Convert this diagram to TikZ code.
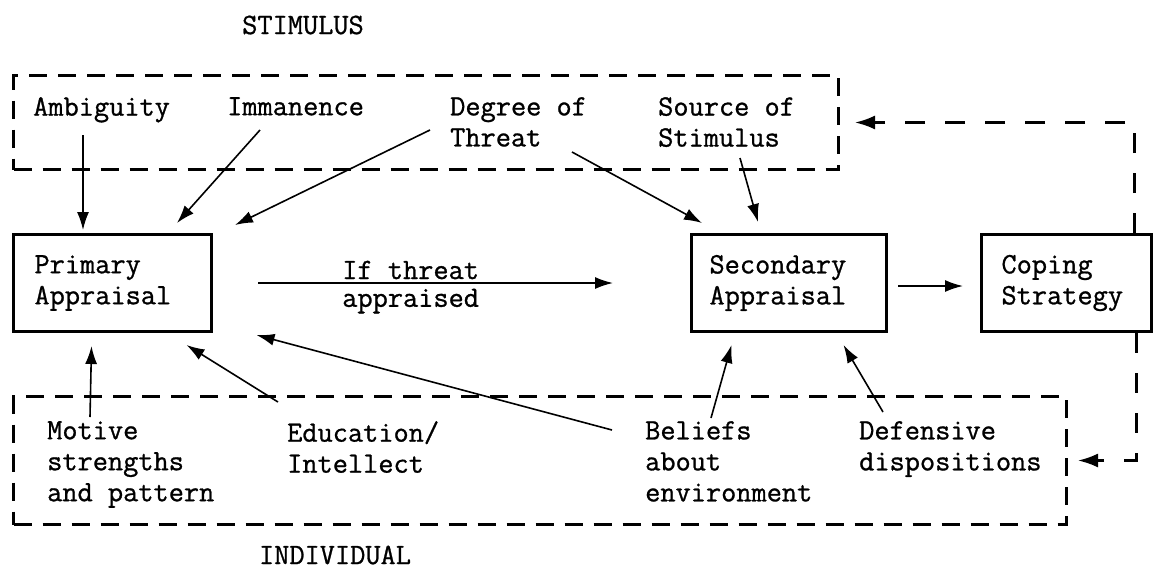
\documentclass[tikz,border=0pt]{standalone}
\usepackage{fontspec}
\newfontfamily\typew{Latin Modern Mono}[FakeBold=0.9]
\usetikzlibrary{arrows.meta,calc}
\tikzset{
  txt/.style={inner sep=0pt, anchor=north west, align=left},
  boxn/.style={draw, line width=3pt, align=left, anchor=north west, minimum height=97pt, inner ysep=0pt},
  dbox/.style={draw, line width=3pt, dash pattern=on 18pt off 11pt, anchor=north west, inner sep=0pt},
  arr/.style={line width=1.6pt, -{Latex[length=18pt,width=12pt]}},
  fb/.style={line width=2.2pt, dash pattern=on 20pt off 20pt, -{Latex[length=20pt,width=14pt]}},
}
\begin{document}
\begin{tikzpicture}[x=1pt,y=-1pt,font=\fontsize{29.5pt}{31pt}\selectfont\typew]
\useasboundingbox[fill=white] (0,0) rectangle (1153,582);
% titles
\node[inner sep=0pt] (stitle) at (303,25) {STIMULUS};
\node[inner sep=0pt] (ititle) at (335,555) {INDIVIDUAL};
% dashed group boxes
\node[dbox, minimum width=825pt, minimum height=94pt] (stim) at (12,74) {};
\node[dbox, minimum width=1053pt, minimum height=128pt] (indiv) at (12,395) {};
% stimulus texts
\node[txt] (amb) at (33,97) {Ambiguity};
\node[txt] (imm) at (227,97) {Immanence};
\node[txt] (deg) at (450,97) {Degree of\\Threat};
\node[txt] (src) at (658,97) {Source of\\Stimulus};
% individual texts
\node[txt] (mot) at (47,421) {Motive\\strengths\\and pattern};
\node[txt] (edu) at (287,421) {Education/\\Intellect};
\node[txt] (bel) at (645,421) {Beliefs\\about\\environment};
\node[txt] (def) at (859,421) {Defensive\\dispositions};
% process boxes
\node[boxn, inner xsep=21pt, text width=156pt] (prim) at (12,233) {Primary\\Appraisal};
\node[boxn, inner xsep=18pt, text width=159pt] (sec) at (690,233) {Secondary\\Appraisal};
\node[boxn, inner xsep=20pt, text width=130pt] (cop) at (980,233) {Coping\\Strategy};
% stimulus arrows
\draw[arr] ([shift={(50,38)}]amb.north west) -- ([shift={(71,-3)}]prim.north west);
\draw[arr] ([shift={(33,33)}]imm.north west) -- ([shift={(165,-10)}]prim.north west);
\draw[arr] ([shift={(-20,33)}]deg.north west) -- ([shift={(223,-8)}]prim.north west);
\draw[arr] ([shift={(122,55)}]deg.north west) -- ([shift={(12,-10)}]sec.north west);
\draw[arr] ([shift={(82,61)}]src.north west) -- ([shift={(68,-11)}]sec.north west);
% main flow
\draw[arr] ([xshift=45pt]prim.east) -- node[pos=0.43, above=3pt, inner sep=0pt] (lab1) {If threat}
  node[pos=0.43, below=5pt, inner sep=0pt] (lab2) {appraised} ([xshift=-77pt]sec.west);
\draw[arr] ([shift={(10,3)}]sec.east) -- ([shift={(-17,3)}]cop.west);
% feedback
\draw[fb] ([xshift=68pt]cop.north) |- ([xshift=15pt]stim.east);
\draw[fb] ([xshift=70pt]cop.south) |- ([xshift=10pt]indiv.east);
% individual arrows
\draw[arr] ([shift={(43,-4)}]mot.north west) -- ([shift={(-21,13)}]prim.south);
\draw[arr] ([shift={(-9,-19)}]edu.north west) -- ([shift={(74,12)}]prim.south);
\draw[arr] ([shift={(-33,9)}]bel.north west) -- ([shift={(144,2)}]prim.south);
\draw[arr] ([shift={(66,-3)}]bel.north west) -- ([shift={(-57.5,12)}]sec.south);
\draw[arr] ([shift={(24,-9)}]def.north west) -- ([shift={(54.5,12)}]sec.south);
\end{tikzpicture}
\end{document}
